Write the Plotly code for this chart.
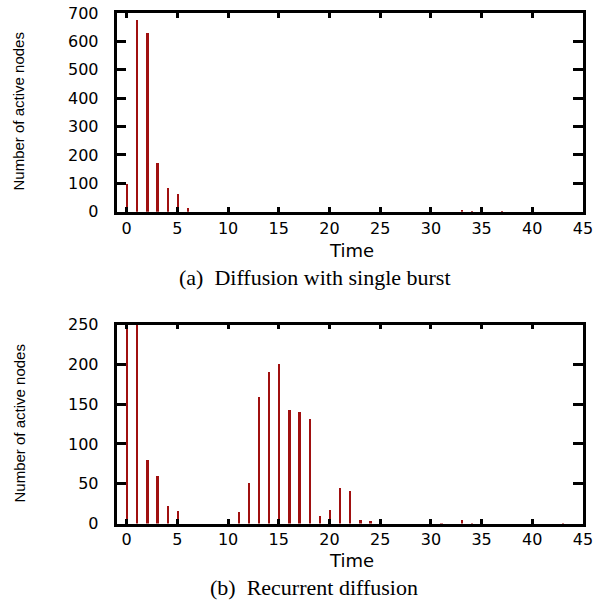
import plotly.graph_objects as go

# ---- data ----
time_a = [0, 1, 2, 3, 4, 5, 6, 33, 34, 37]
active_a = [98, 675, 628, 172, 82, 61, 12, 3, 1, 1]

time_b = [0, 1, 2, 3, 4, 5, 11, 12, 13, 14, 15, 16, 17, 18, 19, 20, 21, 22, 23, 24, 31, 33, 34, 43]
active_b = [290, 270, 80, 60, 22, 16, 15, 51, 160, 191, 201, 143, 141, 132, 10, 18, 45, 41, 5, 4, 1, 5, 1, 1]

x_ticks = [0, 5, 10, 15, 20, 25, 30, 35, 40, 45]
y_ticks_a = [0, 100, 200, 300, 400, 500, 600, 700]
y_ticks_b = [0, 50, 100, 150, 200, 250]

x_title = "Time"
y_title = "Number of active nodes"
caption_a = "(a)\u00a0\u00a0Diffusion with single burst"
caption_b = "(b)\u00a0\u00a0Recurrent diffusion"

# ---- layout helpers ----
W, H = 598, 607
def px(x):
    return x / W
def py(y):
    return 1 - y / H

BAR_COLOR = "#a01010"
TICK_FONT = dict(family="DejaVu Sans, Arial, sans-serif", size=16, color="black")

fig = go.Figure()
fig.add_trace(go.Bar(x=time_a, y=active_a, width=0.22, marker=dict(color=BAR_COLOR, line=dict(width=0)),
                     xaxis="x", yaxis="y", showlegend=False))
fig.add_trace(go.Bar(x=time_b, y=active_b, width=0.22, marker=dict(color=BAR_COLOR, line=dict(width=0)),
                     xaxis="x2", yaxis="y2", showlegend=False))

xdom = [px(116.5), px(583)]
ydom_a = [py(211.7), py(13)]
ydom_b = [py(523.5), py(324.5)]

def xaxis(anchor):
    return dict(domain=xdom, anchor=anchor, range=[-1, 45], tickvals=x_ticks,
                ticks="inside", ticklen=5, tickwidth=3, tickcolor="black",
                showline=True, linewidth=2.5, linecolor="black", mirror="ticks",
                showgrid=False, zeroline=False, tickfont=TICK_FONT, ticklabelstandoff=0,
                ticklabeloverflow="allow", automargin=False)

def yaxis(anchor, dom, rng, vals):
    return dict(domain=dom, anchor=anchor, range=rng, tickvals=vals,
                ticks="inside", ticklen=10, tickwidth=2.5, tickcolor="black",
                showline=True, linewidth=2.5, linecolor="black", mirror="ticks",
                showgrid=False, zeroline=False, tickfont=TICK_FONT, ticklabelstandoff=12,
                ticklabeloverflow="allow", automargin=False)

fig.update_layout(
    width=W, height=H,
    margin=dict(l=0, r=0, t=0, b=0),
    paper_bgcolor="white", plot_bgcolor="white",
    bargap=0,
    xaxis=xaxis("y"),
    yaxis=yaxis("x", ydom_a, [0, 700], y_ticks_a),
    xaxis2=xaxis("y2"),
    yaxis2=yaxis("x2", ydom_b, [0, 250], y_ticks_b),
)

title_font = dict(family="DejaVu Sans, Arial, sans-serif", size=18, color="black")
ytitle_font = dict(family="Liberation Sans, Arial, sans-serif", size=15, color="black")
cap_font = dict(family="Liberation Serif, Times New Roman, serif", size=22, color="black")

anns = [
    dict(text=x_title, x=px(351), y=py(250.7), font=title_font),
    dict(text=x_title, x=px(351), y=py(560.7), font=title_font),
    dict(text=y_title, x=px(18.5), y=py(112), font=ytitle_font, textangle=-90),
    dict(text=y_title, x=px(18.5), y=py(424), font=ytitle_font, textangle=-90),
    dict(text=caption_a, x=px(315), y=py(277), font=cap_font),
    dict(text=caption_b, x=px(314), y=py(587), font=cap_font),
]
for a in anns:
    a.update(xref="paper", yref="paper", showarrow=False, xanchor="center", yanchor="middle")
fig.update_layout(annotations=anns)

# remove the default page margin so the figure fills the window exactly
fig.write_html("out.html",
               config={"displayModeBar": False},
               post_script="document.body.style.margin='0';document.body.style.overflow='hidden';")
